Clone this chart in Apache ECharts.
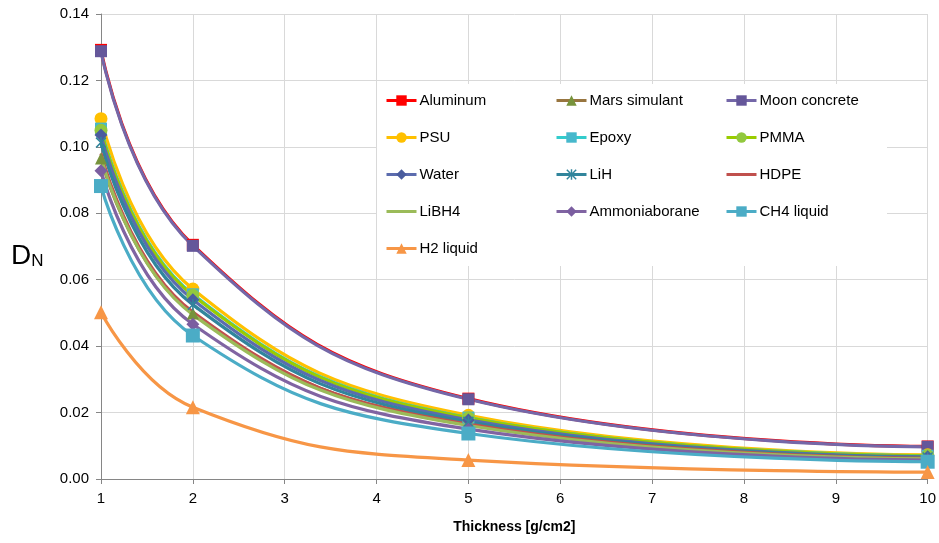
<!DOCTYPE html>
<html>
<head>
<meta charset="utf-8">
<script src="https://cdn.jsdelivr.net/npm/echarts@6/dist/echarts.min.js"></script>
<style>html,body{margin:0;padding:0;background:#fff}#c{width:939px;height:543px}</style>
</head>
<body>
<div id="c"></div>
<script>
const thickness = [1, 2, 5, 10];
const xTicks = [1, 2, 3, 4, 5, 6, 7, 8, 9, 10];
const yTicks = [0, 0.02, 0.04, 0.06, 0.08, 0.10, 0.12, 0.14];

const aluminum      = [0.1292, 0.0705, 0.0242, 0.0098];
const marsSimulant  = [0.0965, 0.0498, 0.0166, 0.0064];
const moonConcrete  = [0.1288, 0.0702, 0.0240, 0.0097];
const psu           = [0.1085, 0.0572, 0.0192, 0.0073];
const epoxy         = [0.1055, 0.0556, 0.0185, 0.0070];
const pmma          = [0.1050, 0.0553, 0.0184, 0.0070];
const water         = [0.1036, 0.0540, 0.0178, 0.0067];
const lih           = [0.1013, 0.0525, 0.0172, 0.0065];
const hdpe          = [0.0980, 0.0503, 0.0165, 0.0063];
const libh4         = [0.0970, 0.0495, 0.0161, 0.0061];
const ammoniaborane = [0.0928, 0.0466, 0.0150, 0.0057];
const ch4Liquid     = [0.0882, 0.0432, 0.0137, 0.0052];
const h2Liquid      = [0.0502, 0.0216, 0.0057, 0.0021];

const starPath = 'path://M0,1 L1,0 L5,4 L9,0 L10,1 L6,5 L10,9 L9,10 L5,6 L1,10 L0,9 L4,5 Z M4.3,0 L5.7,0 L5.7,10 L4.3,10 Z';
const barePath = 'path://M0,0 L30,0 L30,3 L0,3 Z';

const seriesDefs = [
  {name: 'Aluminum', data: aluminum, line: '#FF0000', mark: '#FF0000', symbol: 'rect', size: 12},
  {name: 'Mars simulant', data: marsSimulant, line: '#98753F', mark: '#77933C', symbol: 'triangle', size: 12},
  {name: 'Moon concrete', data: moonConcrete, line: '#7467A8', mark: '#65579A', symbol: 'rect', size: 12},
  {name: 'PSU', data: psu, line: '#FFC000', mark: '#FFC000', symbol: 'circle', size: 13},
  {name: 'Epoxy', data: epoxy, line: '#33CCCC', mark: '#46B8CC', symbol: 'rect', size: 12},
  {name: 'PMMA', data: pmma, line: '#99CC00', mark: '#92C83E', symbol: 'circle', size: 13},
  {name: 'Water', data: water, line: '#5C6CAE', mark: '#4A5C9E', symbol: 'diamond', size: 13},
  {name: 'LiH', data: lih, line: '#31859C', mark: '#31859C', symbol: starPath, size: 11},
  {name: 'HDPE', data: hdpe, line: '#C0504D', mark: '#C0504D', symbol: 'none', size: 0},
  {name: 'LiBH4', data: libh4, line: '#9BBB59', mark: '#9BBB59', symbol: 'none', size: 0},
  {name: 'Ammoniaborane', data: ammoniaborane, line: '#8064A2', mark: '#7B5EA0', symbol: 'diamond', size: 13},
  {name: 'CH4 liquid', data: ch4Liquid, line: '#4BACC6', mark: '#4BACC6', symbol: 'rect', size: 14},
  {name: 'H2 liquid', data: h2Liquid, line: '#F79646', mark: '#F79646', symbol: 'triangle', size: 14}
];

const series = seriesDefs.map(d => ({
  name: d.name,
  type: 'line',
  smooth: 0.45,
  data: thickness.map((x, i) => [x, d.data[i]]),
  symbol: d.symbol,
  symbolSize: d.size,
  showSymbol: d.symbol !== 'none',
  lineStyle: {color: d.line, width: 3.2},
  itemStyle: {color: d.mark, borderWidth: 0},
  color: d.line,
  emphasis: {disabled: true}
}));

const defByName = {};
seriesDefs.forEach(d => { defByName[d.name] = d; });
const legendItem = n => defByName[n].symbol === 'none'
  ? {name: n, icon: barePath, itemStyle: {color: defByName[n].line}}
  : {name: n};

const col1 = ['Aluminum', 'PSU', 'Water', 'LiBH4', 'H2 liquid'];
const col2 = ['Mars simulant', 'Epoxy', 'LiH', 'Ammoniaborane'];
const col3 = ['Moon concrete', 'PMMA', 'HDPE', 'CH4 liquid'];
const font = 'Liberation Sans';
const legendBase = {
  orient: 'vertical', top: 93, itemWidth: 30, itemHeight: 13, itemGap: 22,
  textStyle: {fontSize: 15, color: '#000', fontFamily: font, padding: [0, 0, 0, -2]},
  lineStyle: {width: 3},
  selectedMode: false, padding: 0
};

const chart = echarts.init(document.getElementById('c'), null, {renderer: 'canvas'});
chart.setOption({
  animation: false,
  backgroundColor: '#fff',
  grid: {left: 101, right: 10, top: 14, bottom: 64},
  xAxis: {
    type: 'value', min: xTicks[0], max: xTicks[xTicks.length - 1], interval: 1,
    name: 'Thickness [g/cm2]', nameLocation: 'middle', nameGap: 41,
    nameTextStyle: {fontSize: 14, fontWeight: 'bold', color: '#000', fontFamily: font},
    axisLine: {lineStyle: {color: '#868686', width: 1}},
    axisTick: {show: true, length: 5, lineStyle: {color: '#868686'}},
    axisLabel: {fontSize: 15, color: '#000', fontFamily: font, margin: 12},
    splitLine: {show: true, lineStyle: {color: '#D9D9D9', width: 1}}
  },
  yAxis: {
    type: 'value', min: yTicks[0], max: yTicks[yTicks.length - 1], interval: 0.02,
    axisLine: {show: true, lineStyle: {color: '#868686', width: 1}},
    axisTick: {show: true, length: 5, lineStyle: {color: '#868686'}},
    axisLabel: {fontSize: 15, color: '#000', fontFamily: font, margin: 12, formatter: v => v.toFixed(2)},
    splitLine: {show: true, lineStyle: {color: '#D9D9D9', width: 1}}
  },
  graphic: [
    {type: 'rect', z: 1, shape: {x: 377, y: 84, width: 510, height: 182}, style: {fill: '#fff'}},
    {type: 'text', left: 11, top: 242, style: {
      text: '{d|D}{n|N}', rich: {d: {fontSize: 28, fontFamily: font, fill: '#000'}, n: {fontSize: 17, fontFamily: font, fill: '#000', padding: [11, 0, 0, 0]}}
    }}
  ],
  legend: [
    Object.assign({}, legendBase, {left: 385, data: col1.map(legendItem)}),
    Object.assign({}, legendBase, {left: 555, data: col2.map(legendItem)}),
    Object.assign({}, legendBase, {left: 725, data: col3.map(legendItem)})
  ],
  series: series
});
</script>
</body>
</html>
